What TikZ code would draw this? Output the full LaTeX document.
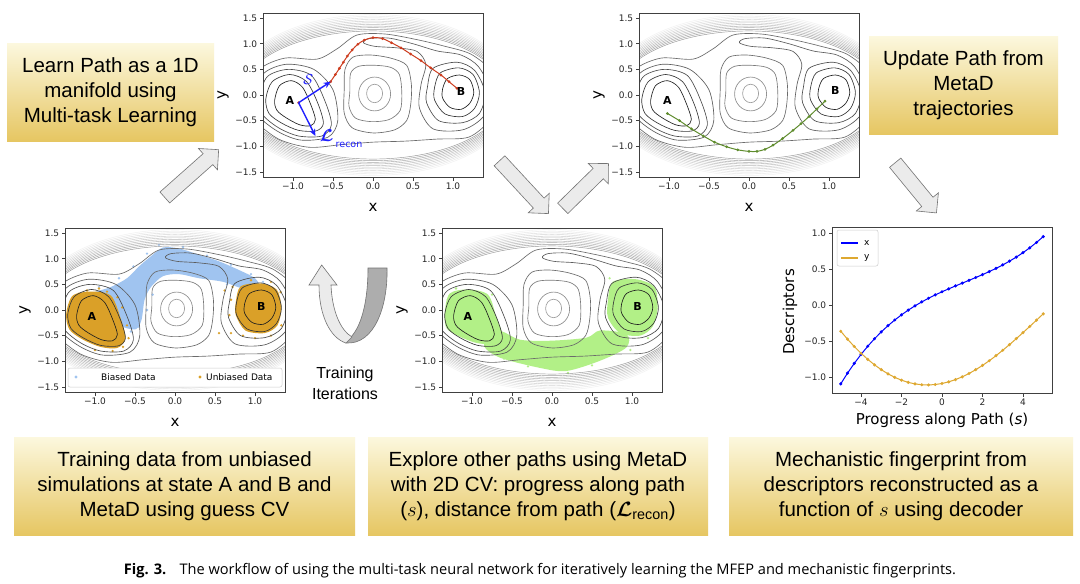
\documentclass[tikz,border=0pt]{standalone}
\usepackage{amsmath,amssymb}
\usepackage{fontspec}
\setmainfont{DejaVu Sans}
\newfontfamily\boxfont{Liberation Sans}
\newfontfamily\capfont{Open Sans}
\usetikzlibrary{shapes.arrows,arrows.meta,positioning,calc}

\definecolor{boxtop}{RGB}{252,248,222}
\definecolor{boxbot}{RGB}{230,198,98}
\definecolor{pathred}{RGB}{205,60,30}
\definecolor{pathgreen}{RGB}{95,140,45}
\definecolor{biasblue}{RGB}{160,196,240}
\definecolor{unbgold}{RGB}{218,160,40}
\definecolor{metagreen}{RGB}{178,240,135}
\definecolor{curvegold}{RGB}{222,168,48}
\definecolor{annblue}{RGB}{30,30,255}

\tikzset{
  gbox/.style={top color=boxtop, bottom color=boxbot, draw=none, minimum height=98pt,
    align=center, inner sep=0pt, font=\boxfont\fontsize{20.5}{25}\selectfont},
  flowarrow/.style={single arrow, draw=black!55, fill=black!8, line width=0.6pt,
    inner xsep=0pt, inner ysep=7pt, single arrow head extend=7pt, single arrow head indent=0pt},
  contour/.style={line width=0.65pt},
  rim/.style={line width=0.45pt},
  frame/.style={draw=black!75, line width=0.7pt},
  ticklab/.style={font=\fontsize{9}{10}\selectfont, text=black!85, inner sep=2pt},
  axlab/.style={font=\fontsize{15}{16}\selectfont},
  wellab/.style={font=\bfseries\fontsize{11}{12}\selectfont},
  legbox/.style={draw=black!20, fill=white, rounded corners=2pt, line width=0.5pt},
  leglab/.style={font=\fontsize{9}{10}\selectfont, anchor=west, inner sep=0pt},
}

% contour lines of the two-well potential, in data units
\newcommand\pescontours{%
  \foreach \k in {0,...,10}{%
    \pgfmathsetmacro\rimA{1.66+0.013*\k}%
    \pgfmathsetmacro\rimB{1.25+0.032*\k}%
    \pgfmathsetmacro\rimC{42-3.6*\k}%
    \draw[rim, black!\rimC] plot[domain=0:355, samples=72, smooth cycle] ({\rimA*cos(\x)}, {\rimB*sin(\x)});
  }%
  \draw[contour, black!58] plot[smooth cycle] coordinates {(-1.58,0) (-1.42,0.5) (-1.1,0.72) (-0.7,0.7) (-0.45,0.9) (-0.2,1.17) (0.15,1.19) (0.55,1.08) (0.9,0.95) (1.22,0.8) (1.48,0.47) (1.58,0) (1.47,-0.47) (1.2,-0.82) (0.8,-0.86) (0.4,-0.9) (0,-0.92) (-0.4,-0.97) (-0.8,-1.02) (-1.18,-0.86) (-1.48,-0.48)};
  % well A
  \draw[contour, black!64] plot[smooth cycle] coordinates {(-1.5,0.0) (-1.36,0.43) (-1.08,0.6) (-0.74,0.5) (-0.5,0.1) (-0.44,-0.5) (-0.56,-0.82) (-0.9,-0.88) (-1.18,-0.72) (-1.42,-0.42)};
  \draw[contour, black!70] plot[smooth cycle] coordinates {(-1.42,-0.05) (-1.32,0.36) (-1.06,0.5) (-0.77,0.38) (-0.6,-0.12) (-0.52,-0.58) (-0.64,-0.8) (-0.93,-0.8) (-1.18,-0.64) (-1.38,-0.38)};
  \draw[contour, black!78] plot[smooth cycle] coordinates {(-1.34,-0.08) (-1.26,0.26) (-1.04,0.4) (-0.83,0.26) (-0.69,-0.16) (-0.62,-0.55) (-0.71,-0.7) (-0.93,-0.69) (-1.14,-0.55) (-1.3,-0.36)};
  \draw[contour, black!88] plot[smooth cycle] coordinates {(-1.23,-0.11) (-1.17,0.18) (-1.02,0.28) (-0.88,0.15) (-0.78,-0.18) (-0.72,-0.48) (-0.78,-0.6) (-0.92,-0.58) (-1.09,-0.44) (-1.2,-0.3)};
  % well B with the upper tongue
  \draw[contour, black!64] plot[smooth cycle] coordinates {(0.6,0.2) (0.66,0.6) (0.55,0.85) (0.3,0.92) (0.02,0.95) (-0.12,1.02) (-0.05,1.1) (0.2,1.11) (0.5,1.0) (0.8,0.86) (1.1,0.78) (1.32,0.55) (1.47,0.05) (1.38,-0.42) (1.12,-0.68) (0.75,-0.66) (0.58,-0.25)};
  \draw[contour, black!70] plot[smooth cycle] coordinates {(0.68,0.15) (0.75,0.52) (1.05,0.64) (1.27,0.48) (1.4,0.05) (1.33,-0.36) (1.12,-0.54) (0.82,-0.5) (0.67,-0.15)};
  \draw[contour, black!78] plot[smooth cycle] coordinates {(0.77,0.15) (0.84,0.43) (1.07,0.53) (1.25,0.4) (1.33,0.05) (1.27,-0.26) (1.12,-0.42) (0.9,-0.37) (0.77,-0.1)};
  \draw[contour, black!88] plot[smooth cycle] coordinates {(0.87,0.12) (0.93,0.32) (1.08,0.39) (1.21,0.3) (1.26,0.05) (1.21,-0.16) (1.1,-0.28) (0.96,-0.24) (0.87,-0.06)};
  % central hill
  \draw[contour, black!58] plot[smooth cycle] coordinates {(-0.36,0.1) (-0.35,0.5) (-0.25,0.74) (-0.03,0.78) (0.22,0.72) (0.42,0.58) (0.48,0.2) (0.47,-0.2) (0.42,-0.5) (0.27,-0.68) (0.0,-0.74) (-0.26,-0.64) (-0.36,-0.35)};
  \draw[contour, black!52] plot[smooth cycle] coordinates {(-0.29,0.05) (-0.28,0.42) (-0.18,0.56) (0.02,0.58) (0.22,0.54) (0.33,0.4) (0.36,0.05) (0.34,-0.3) (0.2,-0.48) (-0.02,-0.52) (-0.22,-0.45) (-0.3,-0.22)};
  \draw[contour, black!45] (0.02,0.02) ellipse ({0.2} and {0.33});
  \draw[contour, black!38] (0.02,0.03) ellipse ({0.1} and {0.18});
}

% frame, ticks and labels of a contour panel
\newcommand\pesaxes[1]{%
  \draw[frame] (-1.375,-1.6) rectangle (1.375,1.6);
  \foreach \v/\l [count=\i] in {-1/−1.0,-0.5/−0.5,0/0.0,0.5/0.5,1/1.0}
    \draw[frame] (\v,-1.6) -- ++(0,-3.5pt) node[ticklab, below] (#1x\i) {\l};
  \foreach \v/\l [count=\i] in {-1.5/−1.5,-1/−1.0,-0.5/−0.5,0/0.0,0.5/0.5,1/1.0,1.5/1.5}
    \draw[frame] (-1.375,\v) -- ++(-3.5pt,0) node[ticklab, left] (#1y\i) {\l};
  \node[axlab] (#1xl) at ([yshift=-30pt]0,-1.6) {x};
  \node[axlab, rotate=90] (#1yl) at ([xshift=-40pt]-1.375,0) {y};
}

\begin{document}
\begin{tikzpicture}[x=1pt, y=-1pt]
  \fill[white] (0,0) rectangle (1080,584);
  \useasboundingbox (0,0) rectangle (1080,584);

  % text boxes
  \node[gbox, minimum width=207pt] (learn) at (110.5,92) {Learn Path as a 1D\\manifold using\\Multi-task Learning};
  \node[gbox, minimum width=189pt] (update) at (963.5,85) {Update Path from\\MetaD\\trajectories};
  \node[gbox, minimum width=341pt] (data) at (184.5,486) {Training data from unbiased\\simulations at state A and B and\\MetaD using guess CV};
  \node[gbox, minimum width=340pt] (explore) at (538,486) {Explore other paths using MetaD\\with 2D CV: progress along path\\($s$), distance from path ($\boldsymbol{\mathcal{L}}_{\text{recon}}$)};
  \node[gbox, minimum width=344pt] (finger) at (901,486) {Mechanistic fingerprint from\\descriptors reconstructed as a\\function of $s$ using decoder};

  % block arrows between panels
  \node[flowarrow, rotate=41.6, minimum height=72pt] (flowA) at (189,176) {};
  \node[flowarrow, rotate=-47.2, minimum height=72pt] (flowB) at (521.5,184.5) {};
  \node[flowarrow, rotate=44.4, minimum height=64pt] (flowC) at (583,188.5) {};
  \node[flowarrow, rotate=-50.6, minimum height=65pt] (flowD) at (913.5,185) {};

  % training loop
  \filldraw[draw=black!55, fill=black!32, line width=0.6pt] (346,343) .. controls (375,345) and (388,305) .. (387,268) -- (368,268) .. controls (368,300) and (362,325) .. (351,337) -- cycle;
  \filldraw[draw=black!55, fill=black!8, line width=0.6pt] (321.7,265) -- (337,285) -- (331,285) .. controls (332,310) and (340,330) .. (352,337) -- (346,343) .. controls (330,338) and (319,315) .. (319,285) -- (309,285) -- cycle;
  \node[font=\boxfont\fontsize{16}{21}\selectfont, align=center] (train) at (345,383) {Training\\Iterations};

  % panel: learn path
  \begin{scope}[shift={(373,95)}, x=80pt, y=51.25pt]
    \begin{scope}
      \clip (-1.375,-1.6) rectangle (1.375,1.6);
      \pescontours
    \end{scope}
    \draw[pathred, line width=1pt, mark=*, mark size=0.8pt] plot[smooth] coordinates {(-0.53,0.26) (-0.47,0.4) (-0.42,0.52) (-0.37,0.64) (-0.32,0.76) (-0.26,0.88) (-0.19,0.99) (-0.11,1.07) (0,1.12) (0.12,1.1) (0.23,1.02) (0.35,0.92) (0.47,0.8) (0.6,0.67) (0.72,0.53) (0.85,0.39) (0.95,0.26) (1.05,0.13)};
    \coordinate (laA) at (-0.93,-0.15);
    \coordinate (laS) at (-0.53,0.26);
    \coordinate (laL) at (-0.72,-0.8);
    \fill[pathred] (laA) circle (1.5pt);
    \draw[annblue, line width=1.4pt, -{Stealth[length=7pt,width=6pt]}] (laA) -- (laS);
    \draw[annblue, line width=1.4pt, -{Stealth[length=7pt,width=6pt]}] (laA) -- (laL);
    \node[wellab] (laAl) at (-1.04,-0.11) {A};
    \node[wellab] (laBl) at (1.1,0.07) {B};
    \node[text=annblue, font=\fontsize{15}{15}\selectfont] (laSl) at (-0.81,0.31) {$\mathcal{S}$};
    \node[text=annblue, font=\fontsize{16}{16}\selectfont] (laLl) at (-0.58,-0.8) {$\boldsymbol{\mathcal{L}}$};
    \node[text=annblue, font=\fontsize{9.5}{10}\selectfont] (laR) at (-0.3,-0.98) {recon};
    \pesaxes{la}
  \end{scope}

  % panel: updated path
  \begin{scope}[shift={(749,95)}, x=80pt, y=51.25pt]
    \begin{scope}
      \clip (-1.375,-1.6) rectangle (1.375,1.6);
      \pescontours
    \end{scope}
    \draw[pathgreen, line width=1pt, mark=*, mark size=0.8pt] plot[smooth] coordinates {(-1.02,-0.36) (-0.87,-0.5) (-0.72,-0.66) (-0.57,-0.8) (-0.43,-0.92) (-0.28,-1.01) (-0.14,-1.07) (0.0,-1.1) (0.1,-1.1) (0.2,-1.06) (0.3,-0.98) (0.42,-0.85) (0.55,-0.69) (0.65,-0.56) (0.75,-0.42) (0.85,-0.27) (0.95,-0.12)};
    \node[wellab] (upAl) at (-1.02,-0.11) {A};
    \node[wellab] (upBl) at (1.08,0.08) {B};
    \pesaxes{up}
  \end{scope}

  % panel: training data
  \begin{scope}[shift={(175,310)}, x=80pt, y=51.25pt]
    \begin{scope}
      \clip (-1.375,-1.6) rectangle (1.375,1.6);
      \fill[biasblue] plot[smooth cycle] coordinates {(-1.2,0.2) (-1.0,0.35) (-0.8,0.45) (-0.6,0.62) (-0.45,0.85) (-0.3,1.05) (-0.15,1.22) (0.05,1.2) (0.3,1.08) (0.55,0.95) (0.8,0.78) (1.0,0.62) (1.05,0.45) (0.85,0.42) (0.6,0.55) (0.3,0.62) (0.05,0.7) (-0.15,0.66) (-0.3,0.45) (-0.38,0.2) (-0.42,-0.2) (-0.5,-0.38) (-0.7,-0.3) (-0.9,-0.1)};
      \foreach \p in {(-1.25,0.25),(-0.95,0.45),(-0.7,0.62),(-0.52,0.85),(-0.35,1.1),(-0.2,1.27),(0.1,1.23),(0.4,1.06),(0.7,0.88),(0.95,0.7),(1.1,0.55),(-0.35,0.0),(-0.45,-0.33),(-0.55,-0.42),(0.65,0.5),(-0.28,0.3),(0.2,0.68)}
        \fill[biasblue] \p circle (1.3pt);
      \fill[unbgold] plot[smooth cycle] coordinates {(-1.36,-0.08) (-1.28,0.28) (-1.04,0.36) (-0.8,0.28) (-0.68,-0.16) (-0.62,-0.55) (-0.72,-0.74) (-0.93,-0.72) (-1.16,-0.57) (-1.32,-0.38)};
      \fill[unbgold] plot[smooth cycle] coordinates {(0.76,0.15) (0.82,0.46) (1.07,0.52) (1.27,0.4) (1.33,0.05) (1.28,-0.3) (1.12,-0.45) (0.88,-0.4) (0.76,-0.1)};
      \foreach \p in {(-1.1,0.38),(-0.85,0.36),(-0.72,0.25),(-0.66,0.05),(-0.6,-0.3),(-0.58,-0.55),(-0.65,-0.72),(-0.78,-0.8),(-1.0,-0.78),(-0.7,-0.62),(-0.95,0.42),(-1.2,0.32),(0.72,0.45),(0.7,0.2),(0.68,-0.1),(0.7,-0.45),(0.85,-0.5),(1.0,-0.55),(1.2,-0.5),(1.33,-0.3),(1.32,0.35),(1.2,0.55),(0.95,0.58),(0.62,0.38),(0.55,-0.45)}
        \fill[unbgold] \p circle (1.3pt);
      \pescontours
    \end{scope}
    \node[wellab] (tdAl) at (-1.04,-0.13) {A};
    \node[wellab] (tdBl) at (1.08,0.06) {B};
    \pesaxes{td}
  \end{scope}
  \draw[legbox] (68,368) rectangle (282,387);
  \fill[biasblue] (76,377) circle (1.6pt);
  \node[leglab] (tdLa) at (101,377) {Biased Data};
  \fill[unbgold] (200,377) circle (1.6pt);
  \node[leglab] (tdLb) at (206,377) {Unbiased Data};

  % panel: MetaD exploration
  \begin{scope}[shift={(552,310)}, x=80pt, y=51.25pt]
    \begin{scope}
      \clip (-1.375,-1.6) rectangle (1.375,1.6);
      \fill[metagreen] plot[smooth cycle] coordinates {(-1.34,-0.05) (-1.28,0.32) (-1.05,0.4) (-0.8,0.3) (-0.7,-0.12) (-0.62,-0.5) (-0.74,-0.66) (-0.95,-0.64) (-1.18,-0.5) (-1.32,-0.35)};
      \fill[metagreen] plot[smooth cycle] coordinates {(0.7,0.2) (0.76,0.55) (1.05,0.6) (1.28,0.45) (1.32,0.05) (1.26,-0.32) (1.1,-0.5) (0.85,-0.45) (0.7,-0.15)};
      \fill[metagreen] plot[smooth cycle] coordinates {(-0.75,-0.45) (-0.62,-0.42) (-0.4,-0.58) (-0.03,-0.6) (0.43,-0.54) (0.6,-0.4) (0.93,-0.47) (0.93,-0.73) (0.6,-0.99) (0.18,-1.19) (-0.15,-1.13) (-0.65,-0.93) (-0.85,-0.7)};
      \foreach \p in {(-1.2,0.42),(-0.75,0.3),(0.72,0.62),(1.3,0.32),(-0.6,-0.95),(0.2,-1.23),(0.95,-0.6),(0.98,-0.78),(-0.3,-1.1),(0.5,-1.08),(1.2,-0.55),(-1.3,0.2)}
        \fill[metagreen] \p circle (1.3pt);
      \pescontours
    \end{scope}
    \node[wellab] (mdAl) at (-1.05,-0.13) {A};
    \node[wellab] (mdBl) at (1.07,0.06) {B};
    \pesaxes{md}
  \end{scope}

  % panel: descriptors along the path
  \begin{scope}[shift={(942,305.5)}, x=20.25pt, y=72.2pt]
    \draw[frame] (-5.43,-1.212) rectangle (5.43,1.087);
    \draw[blue, line width=1pt, mark=*, mark size=1pt] plot[domain=-5:5, samples=31] (\x, {0.19+0.1269*\x-0.0102*\x*\x+0.00308*\x*\x*\x});
    \draw[curvegold, line width=1pt, mark=*, mark size=1pt] plot[domain=-5:5, samples=31] (\x, {-1.08+0.0563*\x+0.03752*\x*\x-0.00129*\x*\x*\x-0.000157*\x*\x*\x*\x});
    \foreach \v/\l [count=\i] in {-4/−4,-2/−2,0/0,2/2,4/4}
      \draw[frame] (\v,-1.212) -- ++(0,-3.5pt) node[ticklab, below] (dsx\i) {\l};
    \foreach \v/\l [count=\i] in {-1/−1.0,-0.5/−0.5,0/0.0,0.5/0.5,1/1.0}
      \draw[frame] (-5.43,\v) -- ++(-3.5pt,0) node[ticklab, left] (dsy\i) {\l};
    \node[axlab] (dsxl) at ([yshift=-27pt]0,-1.212) {Progress along Path (\textit{s})};
    \node[axlab, rotate=90] (dsyl) at ([xshift=-42pt]-5.43,-0.09) {Descriptors};
  \end{scope}
  \draw[legbox] (837,230) rectangle (878,266);
  \draw[blue, line width=1.2pt] (841,243) -- (858,243);
  \node[leglab] (dsLx) at (864,243) {x};
  \draw[curvegold, line width=1.2pt] (841,258) -- (858,258);
  \node[leglab] (dsLy) at (864,258) {y};

  % caption
  \node[font=\capfont\fontsize{14.6}{16}\selectfont] (cap) at (540,571) {\textbf{Fig. 3.}\hspace{0.9em}The workflow of using the multi-task neural network for iteratively learning the MFEP and mechanistic fingerprints.};
\end{tikzpicture}
\end{document}
